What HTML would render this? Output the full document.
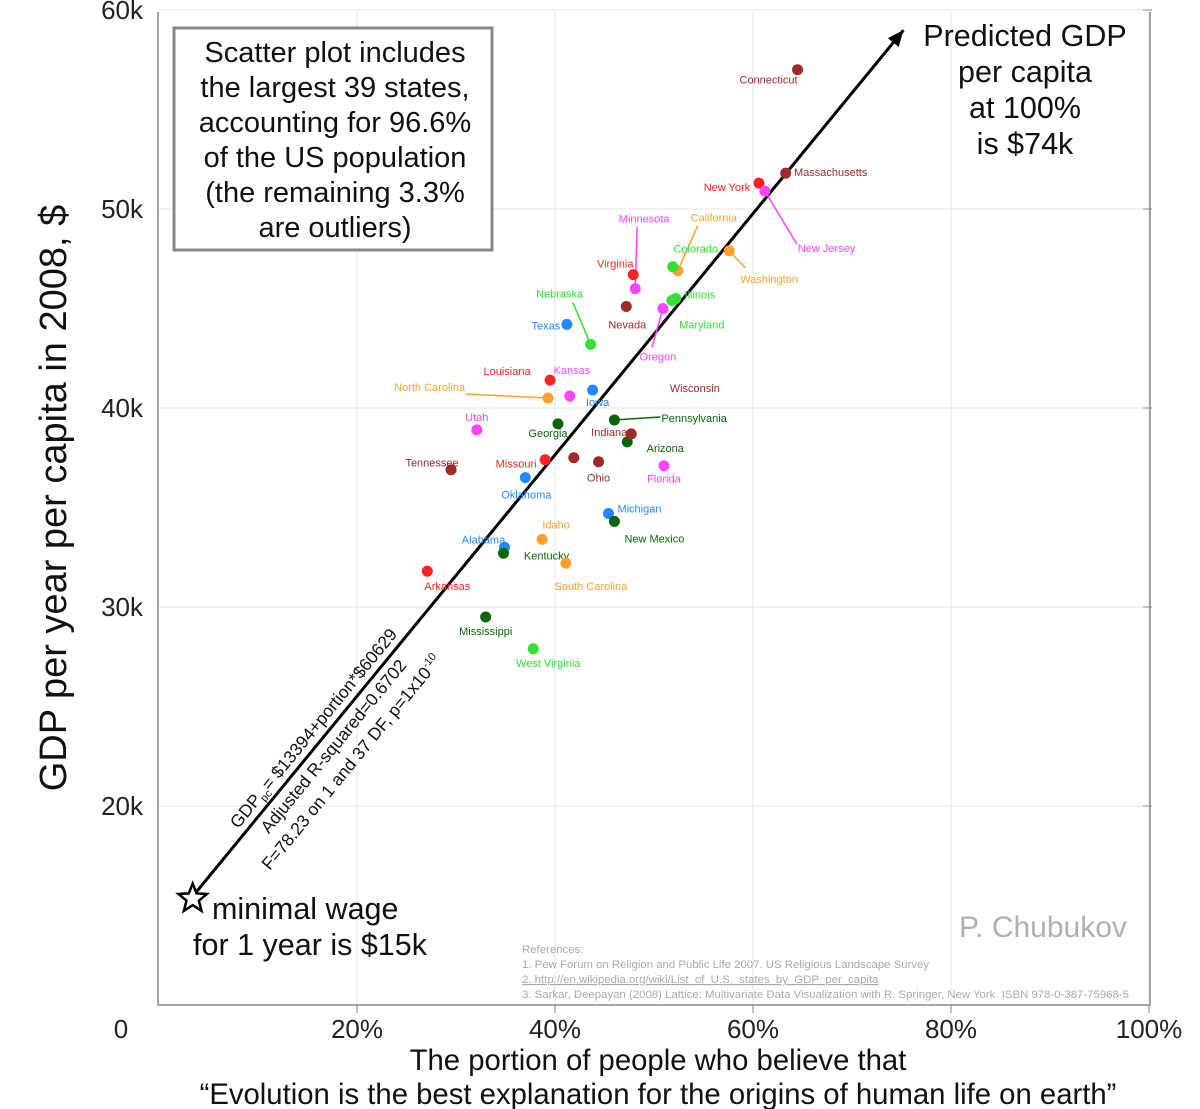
<!DOCTYPE html>
<html><head><meta charset="utf-8"><style>
html,body{margin:0;padding:0;background:#fff;}
svg{display:block;font-family:"Liberation Sans",sans-serif;}
</style></head><body>
<svg id="chart" width="1200" height="1109" viewBox="0 0 1200 1109" xmlns="http://www.w3.org/2000/svg"></svg>
<script>
const states = ["Connecticut","Massachusetts","New York","New Jersey","Minnesota","California","Colorado","Washington","Virginia","Illinois","Maryland","Nevada","Oregon","Texas","Nebraska","Louisiana","Kansas","North Carolina","Iowa","Wisconsin","Pennsylvania","Arizona","Indiana","Utah","Georgia","Tennessee","Missouri","Oklahoma","Ohio","Florida","Michigan","New Mexico","Idaho","Alabama","Kentucky","South Carolina","Arkansas","Mississippi","West Virginia"];
const evolutionPct = [64.5,63.3,60.6,61.2,48.1,52.4,51.9,57.6,47.9,51.8,52.2,47.2,50.9,41.2,43.6,39.5,41.5,39.3,43.8,41.9,46.0,47.3,47.7,32.1,40.3,29.5,39.0,37.0,44.4,51.0,45.4,46.0,38.7,34.9,34.8,41.1,27.1,33.0,37.8];
const gdpK = [57.0,51.8,51.3,50.9,46.0,46.9,47.1,47.9,46.7,45.4,45.5,45.1,45.0,44.2,43.2,41.4,40.6,40.5,40.9,37.5,39.4,38.3,38.7,38.9,39.2,36.9,37.4,36.5,37.3,37.1,34.7,34.3,33.4,33.0,32.7,32.2,31.8,29.5,27.9];
const colorGroup = ["dr","dr","r","m","m","o","g","o","r","g","g","dr","m","b","g","r","m","o","b","dr","dg","dg","dr","m","dg","dr","r","b","dr","m","b","dg","o","b","dg","o","r","dg","g"];
const xTicks = [20,40,60,80,100];
const xTickLabels = ["20%","40%","60%","80%","100%"];
const yTicks = [20,30,40,50,60];
const yTickLabels = ["20k","30k","40k","50k","60k"];
const intercept = 13394, slope = 60629;
// layout (label offsets, not data)
const labelOff = [[-29,10],[45,-1],[-32,4],[61,57],[9,-70],[36,-53],[23,-18],[40,28],[-18,-11],[28,-6],[26,26],[1,18],[-5,48],[-21,1],[-31,-51],[-43,-9],[2,-26],[-120,-11],[5,12],[121,-70],[80,-2],[38,6],[-22,-2],[0,-13],[-10,9],[-19,-7],[-29,4],[1,17],[0,16],[0,13],[31,-5],[40,17],[14,-15],[-21,-8],[43,2],[25,23],[20,15],[0,14],[15,14]];
const leaderOff = {3:[32,53],4:[2,-62],5:[20,-45],7:[16,17],12:[-11,39],14:[-18,-42],17:[-82,-4],20:[46,-3]};
const palette = {dr:"#a02a2a",r:"#ff2222",m:"#ff44ff",o:"#ffa030",g:"#33e033",dg:"#0a640a",b:"#2288ff"};

const svg = document.getElementById('chart');
const NS = "http://www.w3.org/2000/svg";
const xs = p => 159 + p*9.9;
const ys = v => 1005 - (v-10)*19.9;
function mk(tag, attrs, parent){const e=document.createElementNS(NS,tag);for(const k in attrs)e.setAttribute(k,attrs[k]);(parent||svg).appendChild(e);return e;}
function txt(s, attrs, name){const e=mk('text',attrs);e.textContent=s;


return e;}

// grid
xTicks.forEach((t,i)=>{const l=mk('line',{x1:xs(t),x2:xs(t),y1:12,y2:1005,stroke:"#e6e6e6","stroke-width":1});


const tk=mk('line',{x1:xs(t),x2:xs(t),y1:1005,y2:1013,stroke:"#888","stroke-width":1});


txt(xTickLabels[i],{x:xs(t),y:1038,"text-anchor":"middle","font-size":26,fill:"#222"},'x-tick-label');});
yTicks.forEach((t,i)=>{const l=mk('line',{x1:158,x2:1150,y1:ys(t),y2:ys(t),stroke:"#e6e6e6","stroke-width":1});


const tk=mk('line',{x1:1143,x2:1152,y1:ys(t),y2:ys(t),stroke:"#888"});


txt(yTickLabels[i],{x:143,y:ys(t)+9,"text-anchor":"end","font-size":26,fill:"#222"},'y-tick-label');});
txt("0",{x:121,y:1038,"text-anchor":"middle","font-size":26,fill:"#222"},'x-origin-label');
// axes frame
const fr=mk('path',{d:"M158 12 L158 1005 L1150 1005 L1150 12",fill:"none",stroke:"#888","stroke-width":1.5});



// titles
txt("GDP per year per capita in 2008, $",{x:0,y:0,transform:"translate(66,498) rotate(-90)","text-anchor":"middle","font-size":38,fill:"#111"},'y-axis-title');
txt("The portion of people who believe that",{x:658,y:1070,"text-anchor":"middle","font-size":29.3,fill:"#111"},'x-axis-title-line1');
txt("\u201CEvolution is the best explanation for the origins of human life on earth\u201D",{x:658,y:1104,"text-anchor":"middle","font-size":29.3,fill:"#111"},'x-axis-title-line2');

// info box
const bx=mk('rect',{x:174,y:28,width:318,height:222,fill:"#fff",stroke:"#888","stroke-width":3});


["Scatter plot includes","the largest 39 states,","accounting for 96.6%","of the US population","(the remaining 3.3%","are outliers)"].forEach((s,i)=>txt(s,{x:335,y:62+i*35,"text-anchor":"middle","font-size":29,fill:"#111"},'info-box-line'));

// regression line
const p0=0.033,p1=0.752;
const x0=xs(p0*100),y0=ys((intercept+slope*p0)/1000),x1=xs(p1*100),y1=ys((intercept+slope*p1)/1000);
const rl=mk('line',{x1:x0,y1:y0,x2:x1,y2:y1,stroke:"#000","stroke-width":3});


const ang=Math.atan2(y1-y0,x1-x0);
const ah=16,aw=7;
const ax=x1-ah*Math.cos(ang),ay=y1-ah*Math.sin(ang);
const arr=mk('polygon',{points:`${x1},${y1} ${ax+aw*Math.sin(ang)},${ay-aw*Math.cos(ang)} ${ax-aw*Math.sin(ang)},${ay+aw*Math.cos(ang)}`,fill:"#000"});


// star
function starPts(cx,cy,R,r){let s=[];for(let i=0;i<10;i++){const a=-Math.PI/2+i*Math.PI/5;const rr=i%2?r:R;s.push((cx+rr*Math.cos(a)).toFixed(1)+","+(cy+rr*Math.sin(a)).toFixed(1));}return s.join(" ");}
const st=mk('polygon',{points:starPts(x0+1,y0+1,15,6.5),fill:"#fff",stroke:"#000","stroke-width":2.5});



// regression annotations
const deg=ang*180/Math.PI;
const t1=txt("",{transform:`translate(318,732) rotate(${deg})`,"text-anchor":"middle","font-size":17.5,fill:"#111"},'regression-equation');
t1.innerHTML='GDP<tspan font-size="11" dy="4">pc</tspan><tspan dy="-4">= $13394+portion*$60629</tspan>';
txt("Adjusted R-squared=0.6702",{transform:`translate(338,750) rotate(${deg})`,"text-anchor":"middle","font-size":17.5,fill:"#111"},'r-squared-label');
const t3=txt("",{transform:`translate(356,766) rotate(${deg})`,"text-anchor":"middle","font-size":17.5,fill:"#111"},'f-statistic-label');
t3.innerHTML='F=78.23 on 1 and 37 DF,  p=1x10<tspan font-size="11" dy="-7">-10</tspan>';

// annotations
["Predicted GDP","per capita","at 100%","is $74k"].forEach((s,i)=>txt(s,{x:1025,y:46+i*36,"text-anchor":"middle","font-size":30.5,fill:"#111"},'predicted-gdp-note'));
txt("minimal wage",{x:212,y:919,"font-size":30.5,fill:"#111"},'minimal-wage-note');
txt("for 1 year is $15k",{x:310,y:955,"text-anchor":"middle","font-size":30.5,fill:"#111"},'minimal-wage-note');
txt("P. Chubukov",{x:959,y:937,"font-size":30,fill:"#b0b0b0"},'author-credit');
["References:","1. Pew Forum on Religion and Public Life 2007. US Religious Landscape Survey","2. http://en.wikipedia.org/wiki/List_of_U.S._states_by_GDP_per_capita","3. Sarkar, Deepayan (2008) Lattice: Multivariate Data Visualization with R. Springer, New York. ISBN 978-0-387-75968-5"].forEach((s,i)=>{const e=txt(s,{x:522,y:953+i*15,"font-size":11.4,fill:"#aaa"},'reference-line');if(i==2)e.setAttribute('text-decoration','underline');});

// points
states.forEach((s,i)=>{
  const px=xs(evolutionPct[i]),py=ys(gdpK[i]),c=palette[colorGroup[i]];
  if(leaderOff[i]){const lo=leaderOff[i];const l=mk('line',{x1:px,y1:py,x2:px+lo[0],y2:py+lo[1],stroke:c,"stroke-width":1.5});
    
    }
  const d=mk('circle',{cx:px,cy:py,r:5.5,fill:c});
  
  
  const o=labelOff[i];
  const anchor = leaderOff[i] && i===17 ? "end" : (leaderOff[i] && (i===20||i===3||i===7) ? "start":"middle");
  let lx=px+o[0]; if(anchor==="end")lx=px+o[0]+37; if(i===20)lx=px+o[0]-33; if(i===3)lx=px+o[0]-28; if(i===7)lx=px+o[0]-29;
  txt(s,{x:lx,y:py+o[1]+4,"text-anchor":anchor,"font-size":11,fill:c},'label-'+s.toLowerCase().replace(/ /g,'-'));
});
</script>
</body></html>
